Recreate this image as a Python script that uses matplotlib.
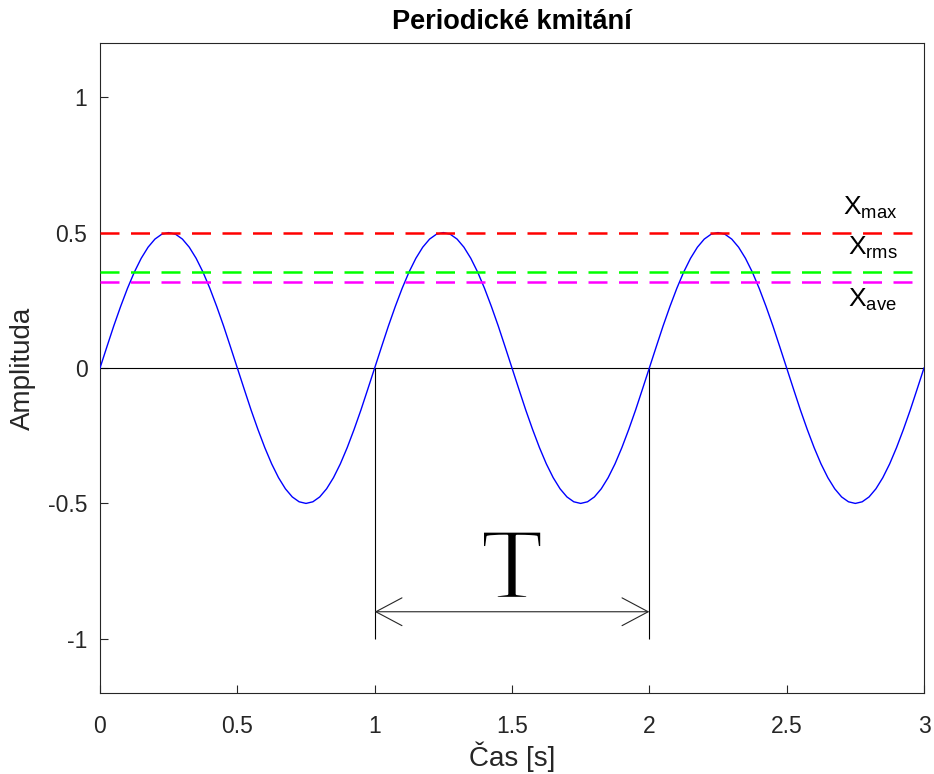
import matplotlib
matplotlib.use("Agg")
import matplotlib.pyplot as plt
import matplotlib.patheffects as pe
import numpy as np

time_s = np.linspace(0, 3, 121)
amplitude = [
    0.000, 0.078, 0.155, 0.227, 0.294, 0.354, 0.405, 0.446, 0.476, 0.494,
    0.500, 0.494, 0.476, 0.446, 0.405, 0.354, 0.294, 0.227, 0.155, 0.078,
    0.000, -0.078, -0.155, -0.227, -0.294, -0.354, -0.405, -0.446, -0.476, -0.494,
    -0.500, -0.494, -0.476, -0.446, -0.405, -0.354, -0.294, -0.227, -0.155, -0.078,
    0.000, 0.078, 0.155, 0.227, 0.294, 0.354, 0.405, 0.446, 0.476, 0.494,
    0.500, 0.494, 0.476, 0.446, 0.405, 0.354, 0.294, 0.227, 0.155, 0.078,
    0.000, -0.078, -0.155, -0.227, -0.294, -0.354, -0.405, -0.446, -0.476, -0.494,
    -0.500, -0.494, -0.476, -0.446, -0.405, -0.354, -0.294, -0.227, -0.155, -0.078,
    0.000, 0.078, 0.155, 0.227, 0.294, 0.354, 0.405, 0.446, 0.476, 0.494,
    0.500, 0.494, 0.476, 0.446, 0.405, 0.354, 0.294, 0.227, 0.155, 0.078,
    0.000, -0.078, -0.155, -0.227, -0.294, -0.354, -0.405, -0.446, -0.476, -0.494,
    -0.500, -0.494, -0.476, -0.446, -0.405, -0.354, -0.294, -0.227, -0.155, -0.078,
    0.000,
]

# Characteristic levels (max, rms, average)
level_names = ["max", "rms", "ave"]
level_values = [0.5, 0.354, 0.318]
level_colors = ["#ff0000", "#00ff00", "#ff00ff"]
level_label_pos = [(2.705, 0.565), (2.723, 0.417), (2.723, 0.225)]

# One period marked between these two times
period_start = 1.0
period_end = 2.0
period_bottom = -1.0
arrow_y = -0.9

x_ticks = [0, 0.5, 1, 1.5, 2, 2.5, 3]
x_tick_labels = ["0", "0.5", "1", "1.5", "2", "2.5", "3"]
y_ticks = [-1, -0.5, 0, 0.5, 1]
y_tick_labels = ["-1", "-0.5", "0", "0.5", "1"]

AX_COLOR = "#262626"


def main():
    plt.rcParams["font.family"] = ["Liberation Sans", "DejaVu Sans"]
    plt.rcParams["mathtext.default"] = "regular"
    plt.rcParams["axes.unicode_minus"] = False

    fig = plt.figure(figsize=(9.34, 7.74), dpi=100)
    ax = fig.add_axes([100 / 934, 1 - 693 / 774, 824 / 934, 650 / 774])

    # zero line and period markers
    ax.axhline(0, color="black", lw=0.8, zorder=2)
    ax.vlines([period_start, period_end], period_bottom, 0, color="black", lw=0.8, zorder=2)

    # signal
    ax.plot(time_s, amplitude, color="#0000ff", lw=1.0, zorder=3)

    # dashed levels + labels
    for name, val, col, pos in zip(level_names, level_values, level_colors, level_label_pos):
        ax.axhline(val, color=col, lw=1.8, linestyle=(0, (7.6, 4.6)), zorder=4)
        ax.text(pos[0], pos[1], r"$X_{%s}$" % name, fontsize=19, ha="left", va="baseline",
                color="black")

    # period arrow and the T symbol
    ax.annotate("", xy=(period_start, arrow_y), xytext=(period_end, arrow_y),
                arrowprops=dict(arrowstyle="<->,head_length=0.94,head_width=0.5",
                                mutation_scale=20, shrinkA=0, shrinkB=0,
                                lw=0.8, color=AX_COLOR))
    # thin the glyph a bit with a white outline, the original T is light
    ax.text((period_start + period_end) / 2, -0.849, "T", fontsize=73,
            family="Liberation Serif", ha="center", va="baseline", color="black",
            path_effects=[pe.Stroke(linewidth=1.6, foreground="white")])

    ax.set_xlim(0, 3)
    ax.set_ylim(-1.2, 1.2)
    ax.set_xticks(x_ticks)
    ax.set_xticklabels(x_tick_labels)
    ax.set_yticks(y_ticks)
    ax.set_yticklabels(y_tick_labels)
    ax.tick_params(direction="in", length=6, width=0.8, colors=AX_COLOR, labelsize=16.5)
    ax.tick_params(axis="x", pad=15.5)
    ax.tick_params(axis="y", pad=9)
    for sp in ax.spines.values():
        sp.set_color(AX_COLOR)
        sp.set_linewidth(0.8)

    ax.set_title("Periodické kmitání", fontsize=19.5, fontweight="bold", pad=10, color="black")
    ax.set_xlabel("Čas [s]", fontsize=20, color=AX_COLOR, va="center")
    ax.xaxis.set_label_coords(0.5, -0.0985)
    ax.set_ylabel("Amplituda", fontsize=20, color=AX_COLOR, va="center")
    ax.yaxis.set_label_coords(-0.094, 0.5)

    fig.savefig("out.png", dpi=100)


if __name__ == "__main__":
    main()
